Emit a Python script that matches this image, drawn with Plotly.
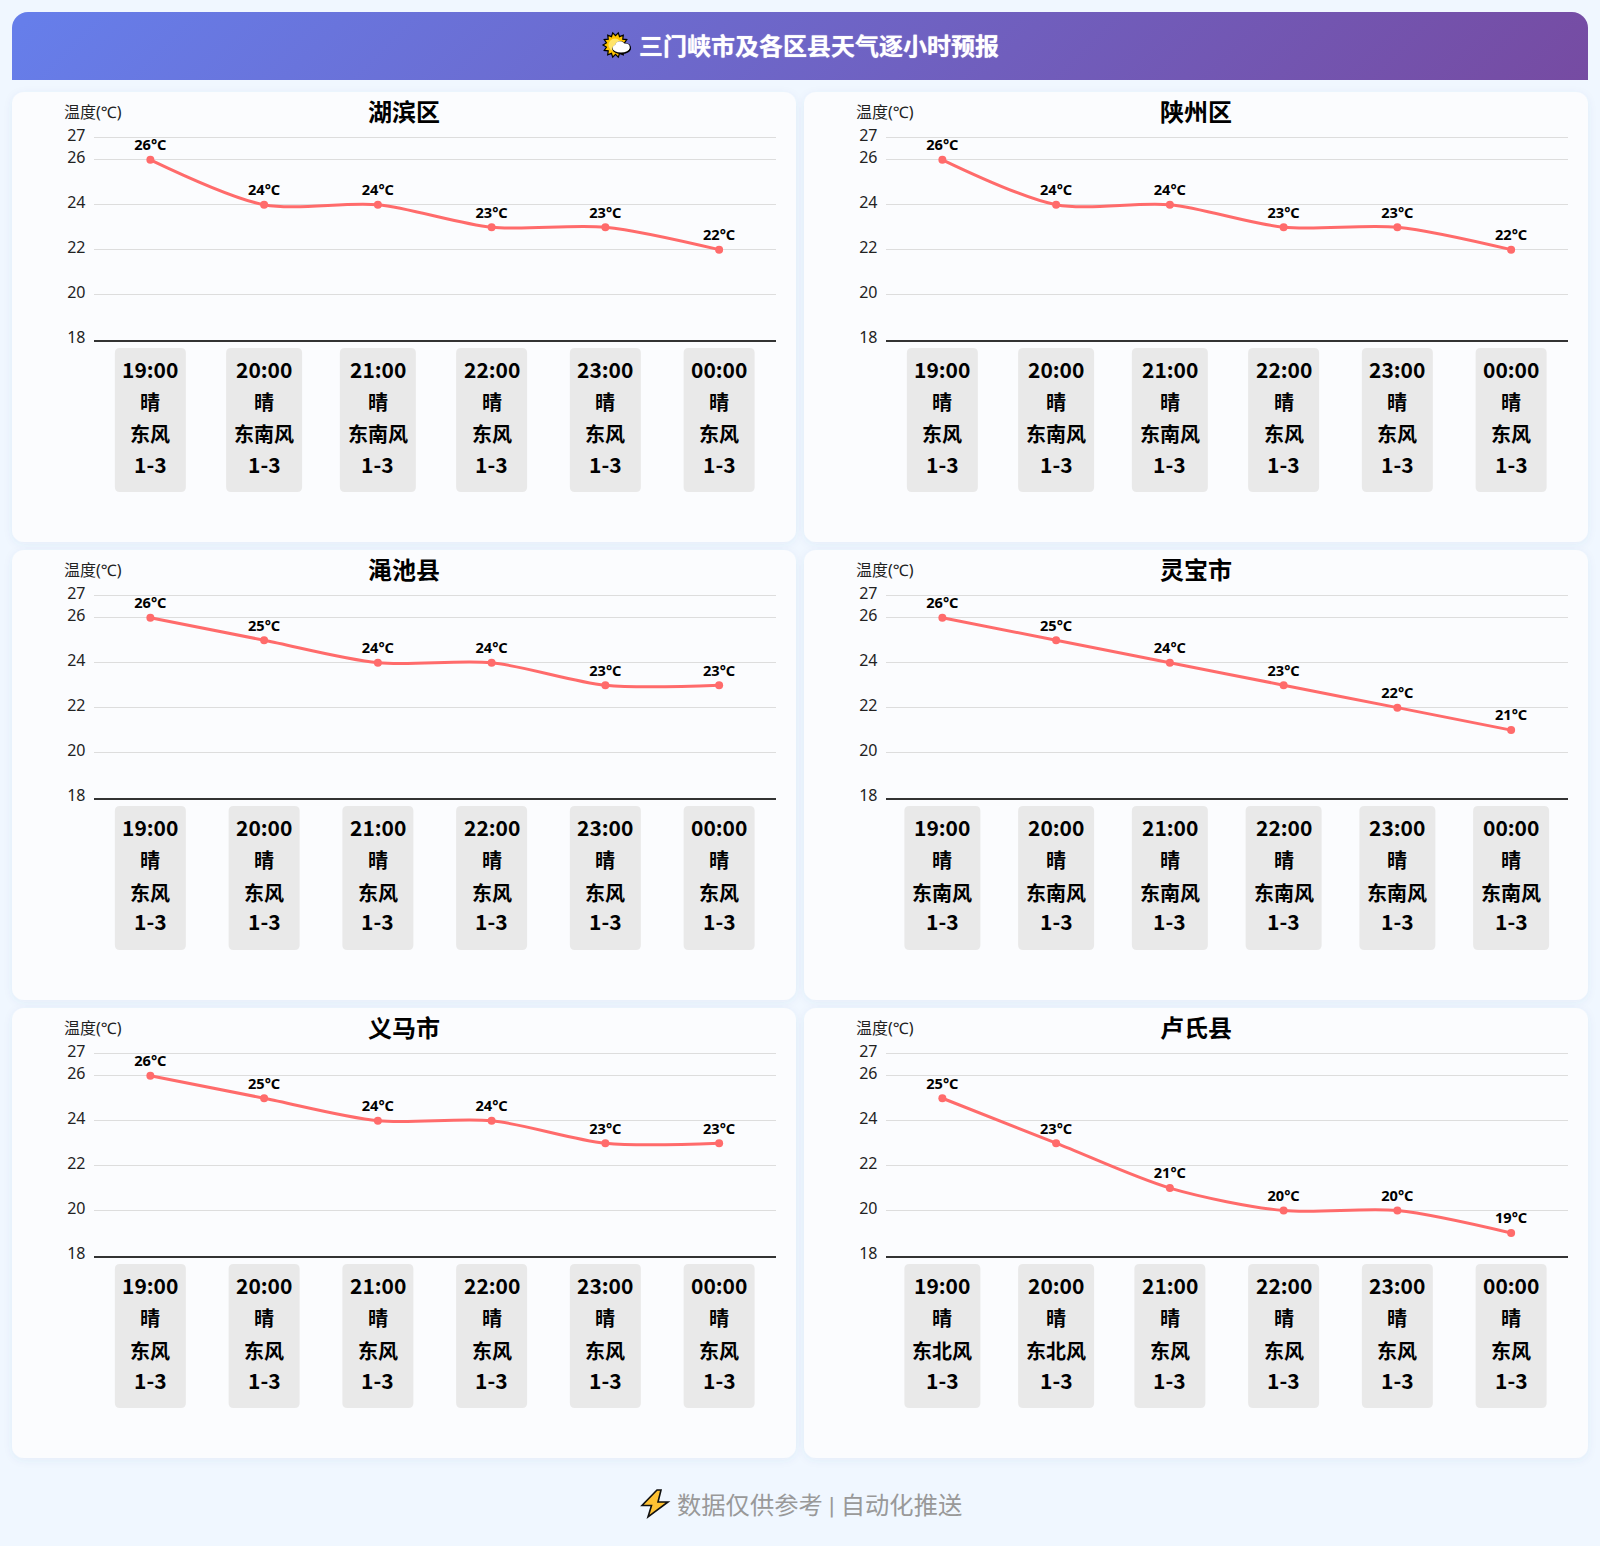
import math
import plotly.graph_objects as go
from urllib.parse import quote

hours = ["19:00", "20:00", "21:00", "22:00", "23:00", "00:00"]
weather = ["晴", "晴", "晴", "晴", "晴", "晴"]
level = ["1-3", "1-3", "1-3", "1-3", "1-3", "1-3"]

names = ["湖滨区", "陕州区", "渑池县", "灵宝市", "义马市", "卢氏县"]
hubin_t = [26, 24, 24, 23, 23, 22]
shanzhou_t = [26, 24, 24, 23, 23, 22]
mianchi_t = [26, 25, 24, 24, 23, 23]
lingbao_t = [26, 25, 24, 23, 22, 21]
yima_t = [26, 25, 24, 24, 23, 23]
lushi_t = [25, 23, 21, 20, 20, 19]
temps = [hubin_t, shanzhou_t, mianchi_t, lingbao_t, yima_t, lushi_t]

hubin_w = ["东风", "东南风", "东南风", "东风", "东风", "东风"]
shanzhou_w = ["东风", "东南风", "东南风", "东风", "东风", "东风"]
mianchi_w = ["东风", "东风", "东风", "东风", "东风", "东风"]
lingbao_w = ["东南风", "东南风", "东南风", "东南风", "东南风", "东南风"]
yima_w = ["东风", "东风", "东风", "东风", "东风", "东风"]
lushi_w = ["东北风", "东北风", "东风", "东风", "东风", "东风"]
winds = [hubin_w, shanzhou_w, mianchi_w, lingbao_w, yima_w, lushi_w]

y_ticks = [18, 20, 22, 24, 26, 27]

W, H = 1600, 1546
FONT = "Noto Sans, Noto Sans CJK SC"
CJK = "Noto Sans CJK SC"
PAGE = "#f0f7ff"
CARD = "#fbfcfe"


def px(x):
    return x / W


def py(y):
    return 1 - y / H


svg_cards = ""
for r in range(3):
    for c in range(2):
        svg_cards += f'<rect x="{12+792*c}" y="{92+458*r}" width="784" height="450" rx="12" fill="{CARD}" filter="url(#s)"/>'
svg = (
    f'<svg xmlns="http://www.w3.org/2000/svg" width="{W}" height="{H}" viewBox="0 0 {W} {H}">'
    '<defs>'
    '<linearGradient id="h" gradientUnits="userSpaceOnUse" x1="394" y1="-348" x2="1206" y2="464">'
    '<stop offset="0" stop-color="#667eea"/><stop offset="1" stop-color="#764ba2"/></linearGradient>'
    '<filter id="s" x="-5%" y="-5%" width="110%" height="110%"><feDropShadow dx="0" dy="2" stdDeviation="4" flood-color="#3060a0" flood-opacity="0.07"/></filter></defs>'
    f'<rect width="{W}" height="{H}" fill="{PAGE}"/>'
    '<path d="M12 80V28a16 16 0 0 1 16-16H1572a16 16 0 0 1 16 16V80Z" fill="url(#h)"/>'
    + svg_cards + "</svg>"
)

fig = go.Figure()
annotations = []
shapes = []
layout_axes = {}


def box_path(w):
    h, r = 72, 5
    hw = w / 2
    return (
        f"M {-hw+r} {-h} L {hw-r} {-h} Q {hw} {-h} {hw} {-h+r} L {hw} {h-r} Q {hw} {h} {hw-r} {h} "
        f"L {-hw+r} {h} Q {-hw} {h} {-hw} {h-r} L {-hw} {-h+r} Q {-hw} {-h} {-hw+r} {-h} Z"
    )


def paper_path(points):
    return "M " + " L ".join(f"{px(a):.5f} {py(b):.5f}" for a, b in points) + " Z"


def paper_ellipse(cx, cy, rx, ry, fill):
    return dict(type="circle", xref="paper", yref="paper", x0=px(cx - rx), x1=px(cx + rx),
                y0=py(cy + ry), y1=py(cy - ry), fillcolor=fill, layer="above",
                line=dict(width=0))


for k, name in enumerate(names):
    c, r = k % 2, k // 2
    dx, dy = 792 * c, 458 * r
    sid = "" if k == 0 else str(k + 1)
    xa, ya = "x" + sid, "y" + sid
    layout_axes["xaxis" + sid] = dict(
        domain=[px(93.5 + dx), px(776 + dx)], anchor=ya, type="category",
        categoryorder="array", categoryarray=hours, range=[-0.5, 5.5],
        showticklabels=False, ticks="", showgrid=False, zeroline=False,
        showline=True, linecolor="#333333", linewidth=2,
    )
    layout_axes["yaxis" + sid] = dict(
        domain=[py(339.5 + dy), py(136.2 + dy)], anchor=xa, range=[18, 27.05],
        tickmode="array", tickvals=y_ticks, ticktext=[str(v) for v in y_ticks],
        ticks="", ticklabelstandoff=7, ticklabelshift=-2,
        tickfont=dict(family=FONT, size=16, color="#222222"),
        showgrid=True, gridcolor="#dddddd", gridwidth=1, zeroline=False, showline=False,
    )
    fig.add_trace(go.Scatter(
        x=hours, y=temps[k], xaxis=xa, yaxis=ya, mode="lines+markers+text",
        line=dict(color="#ff6b6b", width=3, shape="spline", smoothing=0.85),
        marker=dict(color="#ff6b6b", size=8),
        text=[f"{v}°C" for v in temps[k]], textposition="top center",
        textfont=dict(family=FONT, size=14.6, color="#000000", weight=700),
        hoverinfo="skip", showlegend=False, cliponaxis=False,
    ))
    annotations.append(dict(xref="paper", yref="paper", x=px(404 + dx), y=py(111.5 + dy),
                            text=name, showarrow=False, xanchor="center", yanchor="middle",
                            font=dict(family=FONT, size=24, color="#000000", weight=700)))
    annotations.append(dict(xref="paper", yref="paper", x=px(62 + dx), y=py(112 + dy),
                            text="温度(℃)", showarrow=False, xanchor="left", yanchor="middle",
                            font=dict(family=FONT, size=16, color="#222222")))
    for i, hour in enumerate(hours):
        wind = winds[k][i]
        shapes.append(dict(type="path", xref=xa, yref="paper", xsizemode="pixel", ysizemode="pixel",
                           xanchor=i, yanchor=py(420 + dy),
                           path=box_path(76 if len(wind) == 3 else 71),
                           fillcolor="#e9e9e9", line=dict(width=0), layer="below"))
        rows = [(hour, 368.5, 21), (weather[i], 401, 20), (wind, 434, 20), (level[i], 463.5, 21)]
        for line, y, size in rows:
            annotations.append(dict(xref=xa, yref="paper", x=i, y=py(y + dy), text=line,
                                    showarrow=False, xanchor="center", yanchor="middle",
                                    font=dict(family=CJK, size=size, color="#000000", weight=700)))

annotations.append(dict(xref="paper", yref="paper", x=px(819), y=py(46), xanchor="center", yanchor="middle",
                        text="三门峡市及各区县天气逐小时预报", showarrow=False,
                        font=dict(family=FONT, size=24, color="#ffffff", weight=700,
                                  shadow="0 0 1px rgba(255,255,255,0.8)")))
annotations.append(dict(xref="paper", yref="paper", x=px(819.5), y=py(1505), xanchor="center", yanchor="middle",
                        text="数据仅供参考 | 自动化推送", showarrow=False,
                        font=dict(family="Roboto, Noto Sans CJK SC", size=24.3, color="#999999")))

# weather icon in the header: sun with a small cloud
sun_cx, sun_cy = 615.5, 45
star = []
for j in range(28):
    rad = 12.5 if j % 2 == 0 else 9.3
    ang = math.pi * j / 14
    star.append((sun_cx + rad * math.cos(ang), sun_cy + rad * math.sin(ang)))
shapes.append(dict(type="path", xref="paper", yref="paper", path=paper_path(star), layer="above",
                   fillcolor="#ffc400", line=dict(color="#000000", width=1.2)))
shapes.append(paper_ellipse(615, 45, 6.5, 6.5, "#ffe46a"))
cloud = [(621, 48, 8.5, 4.6), (620, 45.5, 4.8, 4.2), (625.5, 47, 4.2, 3.6)]
for cx, cy, rx, ry in cloud:
    shapes.append(paper_ellipse(cx + 0.5, cy + 0.7, rx + 0.8, ry + 0.8, "#000000"))
for cx, cy, rx, ry in cloud:
    shapes.append(paper_ellipse(cx, cy, rx, ry, "#ffffff"))

# lightning icon in the footer
bolt = [(657, 1490), (661, 1490), (658, 1502), (668, 1502), (648, 1517), (651.5, 1505.5), (642, 1505.5)]
shapes.append(dict(type="path", xref="paper", yref="paper", path=paper_path(bolt), layer="above",
                   fillcolor="#ffc233", line=dict(color="#111111", width=1.6)))

fig.update_layout(
    width=W, height=H, autosize=False, margin=dict(l=0, r=0, t=0, b=0, autoexpand=False),
    paper_bgcolor=PAGE, plot_bgcolor="rgba(0,0,0,0)",
    font=dict(family=FONT), annotations=annotations, shapes=shapes,
    images=[dict(source="data:image/svg+xml," + quote(svg), xref="paper", yref="paper", x=0, y=1,
                 sizex=1, sizey=1, xanchor="left", yanchor="top", sizing="stretch", layer="below")],
    **layout_axes,
)
fig.write_html("out.html", post_script="document.body.style.margin='0';document.body.style.background='%s';document.documentElement.style.overflow='hidden';" % PAGE,
               config={"displayModeBar": False})
